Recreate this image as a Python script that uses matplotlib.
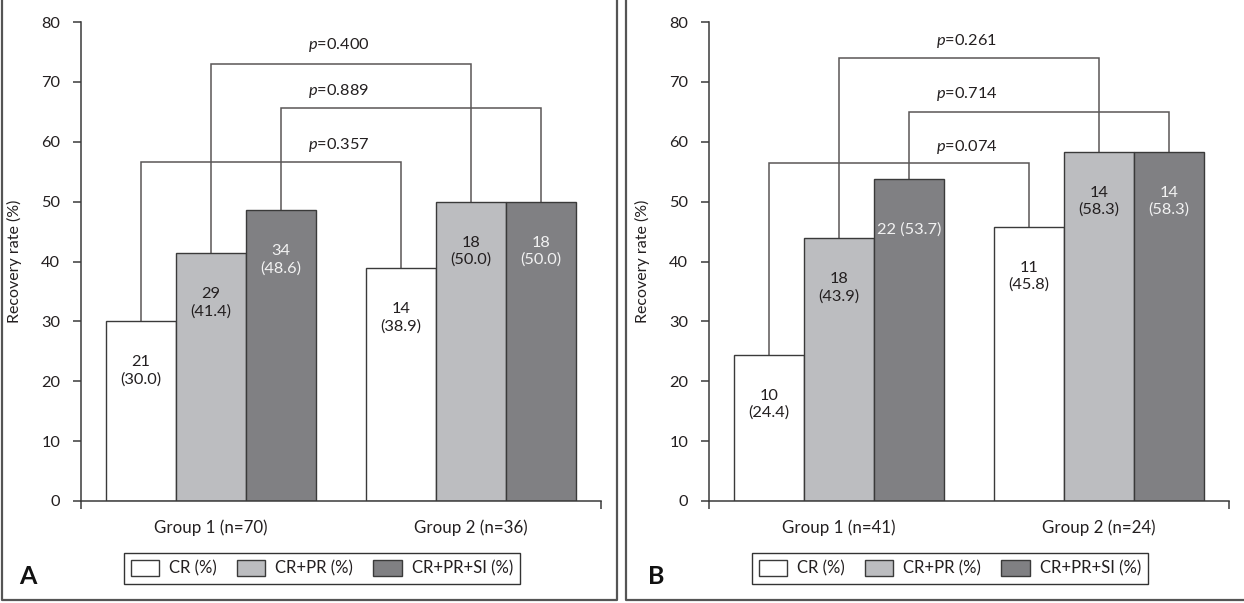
import matplotlib
matplotlib.use("Agg")
import matplotlib.pyplot as plt
from matplotlib.lines import Line2D
from matplotlib.patches import Patch

plt.rcParams['font.family'] = ['Lato', 'DejaVu Sans']
plt.rcParams['mathtext.fontset'] = 'custom'
plt.rcParams['mathtext.it'] = 'Lato:italic'
plt.rcParams['mathtext.rm'] = 'Lato'

series_names = ["CR (%)", "CR+PR (%)", "CR+PR+SI (%)"]
colors = ["#ffffff", "#bcbdc0", "#808083"]
text_colors = ["#231f20", "#231f20", "#f2f2f2"]

# Panel A
groups_A = ["Group 1 (n=70)", "Group 2 (n=36)"]
pct_A = [[30.0, 38.9], [41.4, 50.0], [48.6, 50.0]]
cnt_A = [[21, 14], [29, 18], [34, 18]]
# brackets: series index, bracket height, p label, label height
br_series_A = [0, 2, 1]
br_height_A = [56.6, 65.6, 73.0]
br_p_A = ["0.357", "0.889", "0.400"]
br_text_A = [59.5, 68.4, 76.1]

# Panel B
groups_B = ["Group 1 (n=41)", "Group 2 (n=24)"]
pct_B = [[24.4, 45.8], [43.9, 58.3], [53.7, 58.3]]
cnt_B = [[10, 11], [18, 14], [22, 14]]
br_series_B = [0, 2, 1]
br_height_B = [56.5, 64.9, 74.0]
br_p_B = ["0.074", "0.714", "0.261"]
br_text_B = [59.2, 68.0, 76.8]

W, H = 1244, 603
fig = plt.figure(figsize=(W / 100, H / 100), dpi=100)

edge = "#3a3a3a"
line_c = "#5a5656"
bw = 70 / 260.0
fs = 11.8


def panel(x0, groups, pct, cnt, brs, brh, brp, brt, letter, single_line):
    ax = fig.add_axes([x0 / W, 1 - 501 / H, 520 / W, 479 / H])
    xs = [0, 1]
    for s in range(3):
        xpos = [x + (s - 1) * bw for x in xs]
        ax.bar(xpos, pct[s], width=bw, color=colors[s], edgecolor=edge,
               linewidth=1.0, label=series_names[s], zorder=2)
        for g in range(2):
            if (s, g) in single_line:
                lbl = f"{cnt[s][g]} ({pct[s][g]:.1f})"
            else:
                lbl = f"{cnt[s][g]}\n({pct[s][g]:.1f})"
            ax.text(xpos[g], pct[s][g] - 8.3, lbl, ha="center", va="center",
                    fontsize=fs, color=text_colors[s], linespacing=1.25, zorder=3)
    for s, h, p, t in zip(brs, brh, brp, brt):
        xa = 0 + (s - 1) * bw
        xb = 1 + (s - 1) * bw
        ya = pct[s][0]
        yb = pct[s][1]
        ax.plot([xa, xa, xb, xb], [ya, h, h, yb], color=line_c, lw=1.1,
                zorder=1, solid_joinstyle="miter")
        ax.text(0.49, t, f"$p$=" + p, ha="center", va="center",
                fontsize=fs, color="#231f20")
    ax.set_xlim(-0.5, 1.5)
    ax.set_ylim(0, 80)
    ax.set_yticks(range(0, 81, 10))
    ax.set_xticks(xs)
    ax.set_xticklabels(groups)
    ax.set_xticks([-0.5, 1.5], minor=True)
    ax.tick_params(axis="x", which="major", length=0, pad=13, labelsize=fs + 0.4,
                   labelcolor="#231f20")
    ax.tick_params(axis="x", which="minor", length=6, width=1.1, color=edge,
                   direction="out")
    ax.tick_params(axis="y", length=6, width=1.1, color=edge, pad=9,
                   labelsize=fs, labelcolor="#231f20")
    for sp in ["top", "right"]:
        ax.spines[sp].set_visible(False)
    for sp in ["left", "bottom"]:
        ax.spines[sp].set_color(edge)
        ax.spines[sp].set_linewidth(1.1)
    ax.set_ylabel("Recovery rate (%)", fontsize=fs - 0.3, color="#231f20")
    ax.yaxis.set_label_coords((22 - 81) / 520, 0.5)
    handles = [Patch(facecolor=colors[i], edgecolor=edge, linewidth=1.0,
                     label=series_names[i]) for i in range(3)]
    fig.legend(handles=handles, loc="center", ncol=3,
               bbox_to_anchor=((x0 + 241) / W, 1 - 568.5 / H),
               frameon=True, fancybox=False, edgecolor="#333333",
               framealpha=1, fontsize=fs + 0.2, handlelength=1.7, handleheight=1.1,
               handletextpad=0.6, columnspacing=1.2, borderpad=0.45,
               labelcolor="#231f20")
    fig.text((x0 - 53) / W, 1 - 576 / H, letter, fontsize=18, fontweight="bold",
             ha="center", va="center", color="#111111")
    return ax


panel(81, groups_A, pct_A, cnt_A, br_series_A, br_height_A, br_p_A, br_text_A,
      "A", set())
panel(709, groups_B, pct_B, cnt_B, br_series_B, br_height_B, br_p_B, br_text_B,
      "B", {(2, 0)})

frame_c = "#555555"


def fline(xs, ys):
    fig.add_artist(Line2D([x / W for x in xs], [1 - y / H for y in ys],
                          color=frame_c, lw=1.6, transform=fig.transFigure))


fline([1.5, 1.5, 617, 617], [0, 600, 600, 0])
fline([626, 626, 1244], [0, 600, 600])

fig.savefig("out.png", dpi=100)
